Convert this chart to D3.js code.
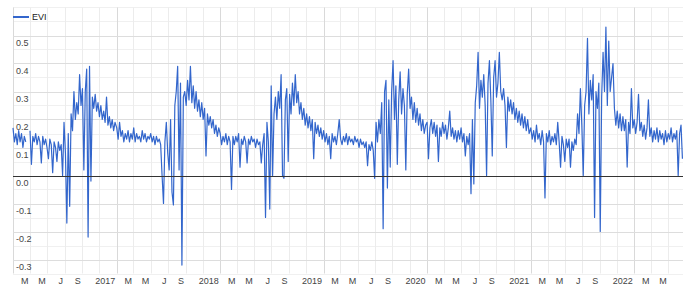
<html>
<head>
<script src="https://d3js.org/d3.v7.min.js"></script>
<style>
  body { margin: 0; background: #fff; }
  text { font-family: Arial, "Liberation Sans", sans-serif; }
</style>
</head>
<body>
<script>
// EVI, one value every 5 days from 1 January of each year (null = no data)
var evi2016 = [0.17,0.12,0.15,0.11,0.16,0.12,0.15,0.10,0.14,0.12, null,null,
  0.16,0.04,0.14,0.12,0.15,0.11,0.14,0.12,0.045,0.14,0.11,0.13,0.10,0.06,0.13,0.11,0.01,0.12,0.10,0.05,0.12,0.09,0.11,0.0,
  0.19,0.08,-0.17,0.15,-0.11,0.22,0.16,0.30,0.20,0.26,
  0.22,0.36,0.25,0.31,0.02,0.30,0.38,-0.22,0.39,-0.02,
  0.28,0.24,0.29,0.23,0.26,0.21,0.25,0.20,0.23,0.19,0.28,0.18,0.21,0.17,0.20,0.16,0.19];
var evi2017 = [0.17,0.13,0.19,0.14,0.16,0.12,0.15,0.13,0.16,0.12,0.15,0.13,0.17,0.12,0.15,0.13,0.14,0.12,0.16,0.13,0.15,0.12,0.14,0.13,0.15,0.12,0.14,0.11,0.14,0.12,0.13,
  0.11,0.0,-0.10,0.12,0.19,0.08,0.02,0.20,-0.06,-0.105,0.25,0.30,0.39,0.02,0.33,
  -0.32,
  0.28,0.30,0.25,0.34,0.27,0.39,0.26,0.32,0.24,
  0.30,0.23,0.27,0.21,0.26,0.20,0.24,0.07,0.22,0.18,0.21,0.17,0.20,0.15,0.18,0.14,0.17];
var evi2018 = [0.15,0.11,0.14,0.12,0.15,0.11,0.14,0.12,-0.05,0.14,0.11,0.14,0.12,0.15,0.03,0.13,0.11,0.14,0.12,0.045,0.13,0.11,0.14,0.12,0.13,0.10,0.13,0.11,0.12,0.045,0.11,
  0.15,-0.15,0.19,0.12,-0.12,0.32,0.0,0.22,0.28,0.20,
  0.30,0.24,0.36,0.0,-0.01,0.27,0.31,0.05,0.29,0.22,0.33,0.25,0.36,0.26,0.30,
  0.22,0.26,0.20,0.24,0.18,0.22,0.17,0.21,0.16,0.20,0.06,0.19,0.15,0.18,0.14,0.17,0.13];
var evi2019 = [0.16,0.12,0.15,0.11,0.14,0.06,0.15,0.12,0.14,0.11,0.15,0.20,0.13,0.11,0.14,0.12,0.15,0.11,0.14,0.12,0.13,0.11,0.14,0.12,0.13,0.10,0.13,0.11,0.12,0.10,0.12,0.035,0.11,0.09,
  0.12,0.09,-0.01,0.19,0.12,0.20,0.15,0.26,-0.19,0.30,0.34,-0.045,0.27,
  0.03,0.30,0.41,0.20,0.32,0.04,0.27,0.37,0.22,0.31,0.25,0.02,0.29,0.38,0.24,0.28,
  0.20,0.26,0.19,0.24,0.18,0.22,0.16,0.20,0.15,0.18];
var evi2020 = [0.19,0.06,0.17,0.20,0.15,0.19,0.14,0.18,0.05,0.17,0.14,0.19,0.15,0.18,0.13,0.17,0.23,0.14,0.17,0.13,0.16,0.12,0.16,0.13,0.17,0.12,0.15,0.07,0.14,0.11,0.15,
  -0.065,0.20,-0.03,0.26,
  0.32,0.44,0.24,0.34,0.28,0.36,0.25,0.0,0.33,0.41,0.27,0.07,0.35,0.41,0.28,0.33,
  0.44,0.30,0.27,0.31,0.25,0.10,0.28,0.23,0.27,0.22,0.26,0.20,0.24,0.19,0.23,0.18,0.22,0.17,0.21,0.16,0.20,0.15];
var evi2021 = [0.17,0.13,0.16,0.12,0.18,0.13,0.15,0.11,0.16,0.12,-0.08,0.15,0.12,0.16,0.11,0.14,0.12,0.15,0.11,0.19,0.12,0.03,0.14,0.11,0.05,0.13,0.10,0.13,0.03,0.12,0.09,0.13,0.11,
  0.22,0.15,0.31,0.18,0.0,0.25,0.30,0.49,0.22,0.34,0.27,0.36,-0.15,
  0.30,0.24,0.33,-0.20,0.28,0.44,0.30,0.53,0.25,0.48,0.30,0.35,0.40,
  0.24,0.18,0.23,0.17,0.22,0.16,0.21,0.16,0.20,0.03,0.19,0.15,0.31,0.17];
var evi2022 = [0.20,0.15,0.19,0.29,0.16,0.19,0.14,0.18,0.13,0.17,0.27,0.14,0.17,0.12,0.16,0.13,0.17,0.12,0.16,0.13,0.15,0.11,0.16,0.12,0.15,0.13,0.17,0.12,0.15,0.13,0.16,0.0,0.15,0.18,0.06];

var years = [2016, 2017, 2018, 2019, 2020, 2021, 2022];
var seriesByYear = [evi2016, evi2017, evi2018, evi2019, evi2020, evi2021, evi2022];
var stepDays = 5;

var yTicks = [0.5, 0.4, 0.3, 0.2, 0.1, 0.0, -0.1, -0.2, -0.3];
var yTickLabels = ["0.5", "0.4", "0.3", "0.2", "0.1", "0.0", "-0.1", "-0.2", "-0.3"];
var monthLabels = ["", "", "M", "", "M", "", "J", "", "S", "", "", ""];

var width = 689, height = 286;
var plot = {left: 13, right: 683, top: 7.5, bottom: 273.5};

var data = [];
years.forEach(function(y, i) {
  seriesByYear[i].forEach(function(v, k) {
    data.push({date: d3.timeDay.offset(new Date(y, 0, 1), k * stepDays), v: v});
  });
});

var x = d3.scaleTime()
  .domain([new Date(2016, 0, 1), new Date(2022, 5, 22)])
  .range([plot.left, plot.right]);
var y = d3.scaleLinear()
  .domain([-0.35, 0.6])
  .range([plot.bottom, plot.top]);

var svg = d3.select("body").append("svg")
  .attr("width", width)
  .attr("height", height);

svg.append("rect").attr("width", width).attr("height", height).attr("fill", "#fff");

// minor horizontal gridlines
var minorY = d3.range(-0.35, 0.601, 0.05).filter(function(v) {
  return Math.abs(Math.round(v * 20)) % 2 === 1 || Math.abs(v - 0.6) < 1e-6;
});
svg.append("g").selectAll("line").data(minorY).enter().append("line")
  .attr("x1", plot.left).attr("x2", plot.right)
  .attr("y1", function(d) { return Math.round(y(d)) + 0.5; })
  .attr("y2", function(d) { return Math.round(y(d)) + 0.5; })
  .attr("stroke", "#f0f0f0");

// vertical gridlines every 2 months
var monthTicks = d3.timeMonth.every(2).range(new Date(2016, 0, 1), x.domain()[1]);
svg.append("g").selectAll("line").data(monthTicks).enter().append("line")
  .attr("x1", function(d) { return Math.round(x(d)) + 0.5; })
  .attr("x2", function(d) { return Math.round(x(d)) + 0.5; })
  .attr("y1", plot.top).attr("y2", plot.bottom)
  .attr("stroke", function(d) { return d.getMonth() === 0 ? "#d9d9d9" : "#ececec"; });

// major horizontal gridlines
svg.append("g").selectAll("line").data(yTicks.filter(function(d) { return d !== 0; })).enter().append("line")
  .attr("x1", plot.left).attr("x2", plot.right)
  .attr("y1", function(d) { return Math.round(y(d)) + 0.5; })
  .attr("y2", function(d) { return Math.round(y(d)) + 0.5; })
  .attr("stroke", "#dddddd");

// data line
var line = d3.line()
  .defined(function(d) { return d.v != null; })
  .x(function(d) { return x(d.date); })
  .y(function(d) { return y(d.v); });

svg.append("path")
  .datum(data)
  .attr("fill", "none")
  .attr("stroke", "#3366cc")
  .attr("stroke-width", 1.2)
  .attr("stroke-linejoin", "round")
  .attr("d", line);

// baseline at zero
svg.append("line")
  .attr("x1", plot.left).attr("x2", plot.right)
  .attr("y1", Math.round(y(0)) + 0.5).attr("y2", Math.round(y(0)) + 0.5)
  .attr("stroke", "#333");

// y labels (inside the plot, under each gridline)
svg.append("g").selectAll("text").data(yTicks).enter().append("text")
  .attr("x", 16)
  .attr("y", function(d) { return y(d) + 10; })
  .attr("font-size", 9)
  .attr("fill", "#444")
  .text(function(d, i) { return yTickLabels[i]; });

// x labels
svg.append("g").selectAll("text").data(monthTicks).enter().append("text")
  .attr("x", function(d) { return x(d) - 1.5; })
  .attr("y", 283.5)
  .attr("text-anchor", "end")
  .attr("font-size", 9)
  .attr("fill", "#444")
  .text(function(d) { return d.getMonth() === 0 ? (d.getFullYear() > 2016 ? d.getFullYear() : "") : monthLabels[d.getMonth()]; });

// legend
svg.append("line")
  .attr("x1", 13).attr("x2", 29).attr("y1", 17).attr("y2", 17)
  .attr("stroke", "#3366cc").attr("stroke-width", 2);
svg.append("text")
  .attr("x", 32).attr("y", 20)
  .attr("font-size", 9)
  .attr("fill", "#222")
  .text("EVI");
</script>
</body>
</html>
